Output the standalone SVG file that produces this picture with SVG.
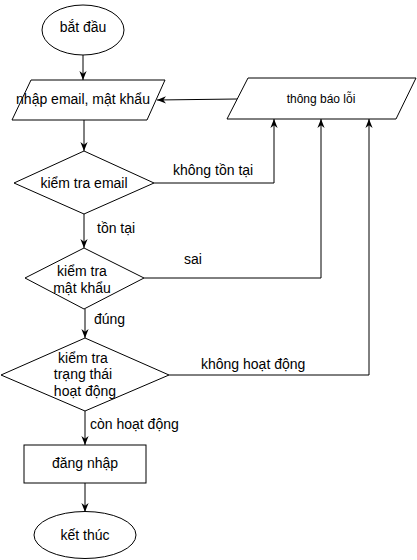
<svg xmlns="http://www.w3.org/2000/svg" width="417" height="560" viewBox="0 0 417 560">
<style>
.n{fill:#fff;stroke:#000;stroke-width:1}
.t{font-family:"Liberation Sans",Arial,sans-serif;font-size:14px;fill:#000;text-anchor:middle}
.s{font-size:12px}
.l{font-family:"Liberation Sans",Arial,sans-serif;font-size:14px;fill:#000}
.c{fill:none;stroke:#000;stroke-width:1;marker-end:url(#a)}
</style>
<defs>
<marker id="a" viewBox="0 0 10 10" refX="10" refY="5" markerWidth="9" markerHeight="9" markerUnits="userSpaceOnUse" orient="auto">
<path d="M0,1 L10,5 L0,9 L3,5 z" fill="#000"/>
</marker>
</defs>
<rect width="417" height="560" fill="#fff"/>
<g id="connectors">
<path class="c" d="M83,55 L83,80"/>
<path class="c" d="M84,120 L84,151"/>
<path class="c" d="M84,214 L84,248"/>
<path class="c" d="M85,309 L85,338"/>
<path class="c" d="M85,411 L85,445"/>
<path class="c" d="M85,483 L85,512"/>
<path class="c" d="M154,183 L274,183 L274,119"/>
<path class="c" d="M144,278 L321,278 L321,119"/>
<path class="c" d="M169,375 L369,375 L369,119"/>
<path class="c" d="M237,99 L157,100"/>
<text class="l" x="173" y="175">không tồn tại</text>
<text class="l" x="97" y="233">tồn tại</text>
<text class="l" x="184" y="264">sai</text>
<text class="l" x="94" y="324">đúng</text>
<text class="l" x="201" y="369">không hoạt động</text>
<text class="l" x="90" y="429">còn hoạt động</text>
</g>
<g id="start">
<ellipse class="n" cx="83" cy="30" rx="41" ry="25"/>
<text class="t" x="83" y="32">bắt đầu</text>
</g>
<g id="input">
<path class="n" d="M31,80 L165,80 L147,120 L12,120 Z"/>
<text class="t" x="83" y="104">nhập email, mật khẩu</text>
</g>
<g id="error">
<path class="n" d="M248,78 L416,78 L396,119 L227,119 Z"/>
<text class="t s" x="321" y="103">thông báo lỗi</text>
</g>
<g id="checkEmail">
<path class="n" d="M84,151 L154,183 L84,214 L14,183 Z"/>
<text class="t" x="84" y="188">kiểm tra email</text>
</g>
<g id="checkPassword">
<path class="n" d="M84,248 L144,278 L84,309 L25,278 Z"/>
<text class="t" x="82" y="276">kiểm tra</text>
<text class="t" x="82" y="293">mật khẩu</text>
</g>
<g id="checkStatus">
<path class="n" d="M85,338 L169,375 L85,411 L1,375 Z"/>
<text class="t" x="83" y="363">kiểm tra</text>
<text class="t" x="83" y="379">trạng thái</text>
<text class="t" x="85" y="396">hoạt động</text>
</g>
<g id="login">
<rect class="n" x="24" y="445" width="122" height="38"/>
<text class="t" x="85" y="468">đăng nhập</text>
</g>
<g id="end">
<ellipse class="n" cx="85" cy="535" rx="51" ry="23.5"/>
<text class="t" x="85" y="540">kết thúc</text>
</g>
</svg>
